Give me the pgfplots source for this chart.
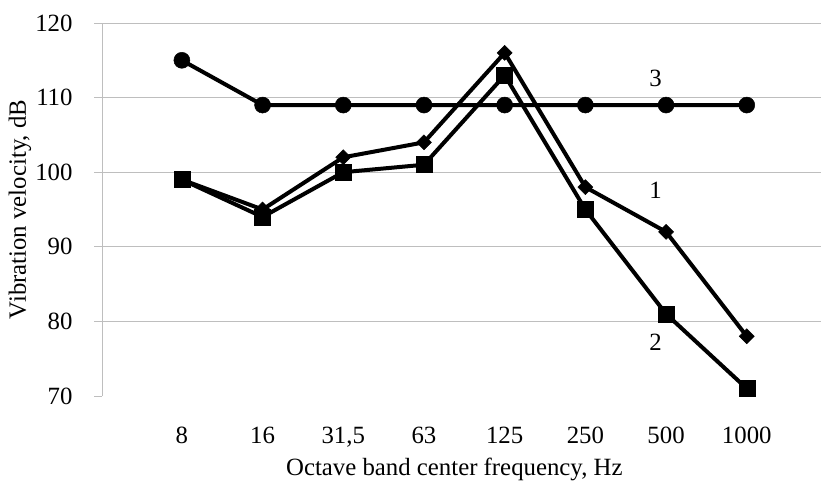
\documentclass[border=0pt]{standalone}
\usepackage{pgfplots}
\pgfplotsset{compat=1.18}
\usepackage{fontspec}
\setmainfont{Liberation Serif}
\definecolor{gridc}{RGB}{190,190,190}
\begin{document}
\fontsize{24.8}{28}\selectfont
\begin{tikzpicture}[x=1pt,y=1pt]
\useasboundingbox (0,0) rectangle (821,480);
\begin{axis}[
  at={(102pt,84pt)}, anchor=south west,
  width=719pt, height=373pt, scale only axis,
  xmin=-0.99, xmax=7.92, ymin=70, ymax=120,
  xtick={0,1,2,3,4,5,6,7},
  xticklabels={8,16,{31,5},63,125,250,500,1000},
  ytick={80,90,100,110,120},
  extra y ticks={70}, extra y tick style={grid=none},
  ymajorgrids, grid style={gridc, line width=0.8pt},
  axis x line*=bottom, axis y line*=left,
  x axis line style={draw=none},
  y axis line style={gridc, line width=0.8pt, -},
  xtick style={draw=none},
  ytick style={gridc, line width=0.8pt},
  tick align=outside, major tick length=8pt,
  yticklabel style={xshift=-13pt},
  xticklabel style={yshift=-15pt},
  tick label style={font=\fontsize{24.8}{28}\selectfont},
  /pgf/number format/assume math mode=true,
  label style={font=\fontsize{24.8}{28}\selectfont},
  xlabel={Octave band center frequency, Hz},
  ylabel={Vibration velocity, dB},
  xlabel style={at={(axis description cs:0.49,0)}, anchor=center, yshift=-73pt},
  ylabel style={at={(axis description cs:0,0.5)}, anchor=center, yshift=82pt},
  clip=false,
]
\addplot[black, line width=4pt, mark=*, mark size=8pt, mark options={solid, line width=0.5pt}]
  coordinates {(0,115) (1,109) (2,109) (3,109) (4,109) (5,109) (6,109) (7,109)};
\addplot[black, line width=4pt, mark=square*, mark size=5.3pt, mark options={solid, line width=0.5pt, rotate=45}]
  coordinates {(0,99) (1,95) (2,102) (3,104) (4,116) (5,98) (6,92) (7,78)};
\addplot[black, line width=4pt, mark=square*, mark size=8pt, mark options={solid, line width=0.5pt}]
  coordinates {(0,99) (1,94) (2,100) (3,101) (4,113) (5,95) (6,81) (7,71)};
\node at (axis cs:5.87,112.6) {3};
\node at (axis cs:5.87,97.6) {1};
\node at (axis cs:5.87,77.2) {2};
\end{axis}
\end{tikzpicture}
\end{document}
